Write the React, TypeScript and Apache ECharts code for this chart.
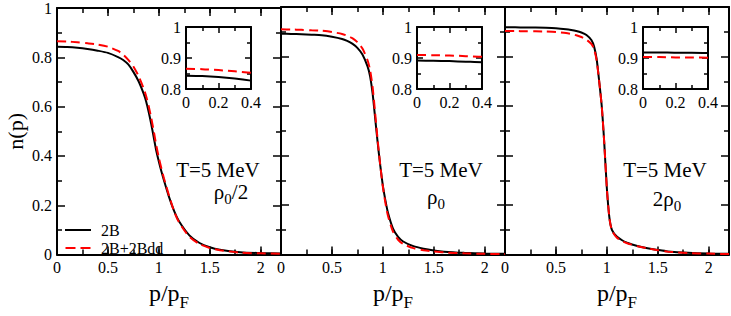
import React, { useEffect, useRef } from 'react';
import * as echarts from 'echarts';

// momentum grid p/pF (shared by all curves)
const P = [0, 0.1, 0.2, 0.3, 0.4, 0.5, 0.6, 0.65, 0.7, 0.75, 0.8, 0.85, 0.875, 0.9, 0.925, 0.95, 0.975, 1.0, 1.025, 1.05, 1.1, 1.15, 1.2, 1.3, 1.4, 1.5, 1.6, 1.8, 2.0, 2.2];

// rho0/2
const HALF_2B = [0.843, 0.842, 0.839, 0.834, 0.827, 0.818, 0.801, 0.789, 0.771, 0.741, 0.704, 0.654, 0.622, 0.579, 0.53, 0.476, 0.421, 0.378, 0.338, 0.302, 0.234, 0.177, 0.134, 0.078, 0.047, 0.03, 0.02, 0.01, 0.006, 0.004];
const HALF_2BDD = [0.865, 0.864, 0.861, 0.857, 0.852, 0.843, 0.826, 0.811, 0.79, 0.763, 0.725, 0.675, 0.643, 0.603, 0.555, 0.501, 0.443, 0.393, 0.35, 0.31, 0.24, 0.176, 0.13, 0.073, 0.043, 0.027, 0.018, 0.008, 0.005, 0.003];
// rho0
const ONE_2B = [0.892, 0.891, 0.89, 0.888, 0.886, 0.88, 0.871, 0.863, 0.852, 0.835, 0.808, 0.76, 0.72, 0.65, 0.55, 0.45, 0.36, 0.28, 0.22, 0.17, 0.105, 0.072, 0.053, 0.034, 0.024, 0.017, 0.012, 0.007, 0.004, 0.003];
const ONE_2BDD = [0.91, 0.909, 0.908, 0.906, 0.904, 0.899, 0.891, 0.884, 0.874, 0.858, 0.832, 0.785, 0.745, 0.675, 0.57, 0.46, 0.36, 0.275, 0.21, 0.158, 0.093, 0.06, 0.043, 0.026, 0.018, 0.013, 0.009, 0.005, 0.003, 0.002];
// 2 rho0
const TWO_2B = [0.918, 0.918, 0.917, 0.917, 0.916, 0.914, 0.91, 0.907, 0.903, 0.897, 0.887, 0.866, 0.84, 0.79, 0.7, 0.6, 0.45, 0.27, 0.15, 0.1, 0.072, 0.058, 0.048, 0.035, 0.026, 0.019, 0.013, 0.007, 0.004, 0.003];
const TWO_2BDD = [0.903, 0.903, 0.902, 0.902, 0.901, 0.899, 0.895, 0.891, 0.886, 0.879, 0.868, 0.85, 0.83, 0.785, 0.7, 0.6, 0.45, 0.27, 0.15, 0.098, 0.068, 0.055, 0.046, 0.034, 0.025, 0.018, 0.012, 0.006, 0.004, 0.002];

const SERIES_NAMES = ['2B', '2B+2Bdd'];
const TEMPERATURE_LABEL = 'T=5 MeV';
const DENSITY_LABELS = ['{a|ρ}{b|0}{a|/2}', '{a|ρ}{b|0}', '{a|2ρ}{b|0}'];

const PANELS = [
  { b: HALF_2B, dd: HALF_2BDD },
  { b: ONE_2B, dd: ONE_2BDD },
  { b: TWO_2B, dd: TWO_2BDD },
];

const FONT = 'Liberation Serif';
const MAIN_LEFT = [57, 281, 505];
const MAIN_W = 224;
const INSET_LEFT = [186, 417, 643];
const T_X = [218, 441, 665];
const D_X = [231, 436, 667];
const D_Y = [192, 197, 199];

const rich = {
  a: { fontSize: 21, fontFamily: FONT, color: '#000' },
  b: { fontSize: 15, fontFamily: FONT, color: '#000', padding: [14, 0, 0, 0] },
};
const nameRich = {
  a: { fontSize: 24, fontFamily: FONT, color: '#000' },
  b: { fontSize: 17, fontFamily: FONT, color: '#000', padding: [20, 0, 0, 0] },
};

function buildOption() {
  const grid: any[] = [];
  const xAxis: any[] = [];
  const yAxis: any[] = [];
  const series: any[] = [];
  const tick = (len: number) => ({ show: true, inside: true, length: len, lineStyle: { color: '#000', width: 1.5 } });
  const aline = (show: boolean) => ({ show, onZero: false, lineStyle: { color: '#000', width: 2 } });
  const lbl = (show: boolean, extra: any = {}) => ({ show, color: '#000', fontSize: 16, fontFamily: FONT, margin: 5, ...extra });
  const minor = (len: number) => ({ show: true, splitNumber: 2, length: len, lineStyle: { color: '#000', width: 1.5 } });

  const addSeries = (xi: number, yi: number, p: any, z: number) => {
    series.push({
      type: 'line', name: SERIES_NAMES[0], xAxisIndex: xi, yAxisIndex: yi,
      data: P.map((x, i) => [x, p.b[i]]), showSymbol: false, symbol: 'none', smooth: 0.25, z,
      itemStyle: { color: '#000' }, lineStyle: { color: '#000', width: 2 },
    });
    series.push({
      type: 'line', name: SERIES_NAMES[1], xAxisIndex: xi, yAxisIndex: yi,
      data: P.map((x, i) => [x, p.dd[i]]), showSymbol: false, symbol: 'none', smooth: 0.25, z: z + 1,
      itemStyle: { color: '#ff0000' }, lineStyle: { color: '#ff0000', width: 2, type: [9, 5] },
    });
  };

  PANELS.forEach((p, g) => {
    const gi = grid.length;
    grid.push({ left: MAIN_LEFT[g], top: 7, width: MAIN_W, height: 256, containLabel: false });
    const xi = xAxis.length;
    const base = { type: 'value', gridIndex: gi, min: 0, max: 2.2, splitLine: { show: false } };
    xAxis.push({
      ...base, position: 'bottom', interval: 0.5, axisLine: aline(true), axisTick: tick(8),
      axisLabel: lbl(true, { showMaxLabel: false, margin: 5 }),
      name: '{a|p/p}{b|F}', nameLocation: 'middle', nameGap: 14, nameTextStyle: { rich: nameRich },
    });
    xAxis.push({ ...base, position: 'bottom', interval: 0.25, axisLine: aline(false), axisTick: tick(5), axisLabel: lbl(false) });
    xAxis.push({ ...base, position: 'top', interval: 0.5, axisLine: aline(true), axisTick: tick(8), axisLabel: lbl(false) });
    xAxis.push({ ...base, position: 'top', interval: 0.25, axisLine: aline(false), axisTick: tick(5), axisLabel: lbl(false) });
    const yi = yAxis.length;
    const ybase = { type: 'value', gridIndex: gi, min: 0, max: 1, interval: 0.2, splitLine: { show: false }, minorTick: minor(5), axisTick: tick(8), axisLine: aline(true) };
    yAxis.push({
      ...ybase, position: 'left', axisLabel: lbl(g === 0, { margin: 5 }),
      ...(g === 0 ? { name: 'n(p)', nameLocation: 'middle', nameGap: 31, nameTextStyle: { fontSize: 22, fontFamily: FONT, color: '#000' } } : {}),
    });
    yAxis.push({ ...ybase, position: 'right', axisLabel: lbl(false) });
    addSeries(xi, yi, p, 2);
  });

  PANELS.forEach((p, g) => {
    const gi = grid.length;
    grid.push({ left: INSET_LEFT[g], top: 27, width: 65, height: 62, containLabel: false });
    const xi = xAxis.length;
    const base = { type: 'value', gridIndex: gi, min: 0, max: 0.4, interval: 0.2, splitLine: { show: false }, minorTick: minor(4), axisTick: tick(6), axisLine: aline(true) };
    xAxis.push({ ...base, position: 'bottom', axisLabel: lbl(true, { margin: 5 }) });
    xAxis.push({ ...base, position: 'top', axisLabel: lbl(false) });
    const yi = yAxis.length;
    const ybase = { type: 'value', gridIndex: gi, min: 0.8, max: 1, interval: 0.1, splitLine: { show: false }, minorTick: minor(4), axisTick: tick(6), axisLine: aline(true) };
    yAxis.push({ ...ybase, position: 'left', axisLabel: lbl(true, { margin: 5 }) });
    yAxis.push({ ...ybase, position: 'right', axisLabel: lbl(false) });
    addSeries(xi, yi, p, 5);
  });

  const graphic: any[] = [];
  PANELS.forEach((_, g) => {
    graphic.push({
      type: 'text', x: T_X[g], y: 170, z: 10,
      style: { text: TEMPERATURE_LABEL, fontSize: 21, fontFamily: FONT, fill: '#000', textAlign: 'center', textVerticalAlign: 'middle', align: 'center', verticalAlign: 'middle' },
    });
    graphic.push({
      type: 'text', x: D_X[g], y: D_Y[g], z: 10,
      style: { text: DENSITY_LABELS[g], rich, fill: '#000', textAlign: 'center', textVerticalAlign: 'middle', align: 'center', verticalAlign: 'middle' },
    });
  });

  return {
    animation: false,
    backgroundColor: '#fff',
    textStyle: { fontFamily: FONT },
    grid, xAxis, yAxis, series, graphic,
    legend: {
      left: 60, top: 217, orient: 'vertical', itemWidth: 26, itemHeight: 2, itemGap: 2, padding: 5,
      selectedMode: false,
      textStyle: { fontSize: 16, fontFamily: FONT, color: '#000', lineHeight: 16, padding: [0, 0, 0, 5] },
      data: [
        { name: SERIES_NAMES[0], icon: 'path://M0,0h26v2h-26z' },
        { name: SERIES_NAMES[1], icon: 'path://M0,0h10v2h-10zM15,0h10v2h-10z' },
      ],
    },
  };
}

export default function App() {
  const ref = useRef<HTMLDivElement>(null);
  useEffect(() => {
    if (!ref.current) return;
    const chart = echarts.init(ref.current, undefined, { renderer: 'svg' });
    chart.setOption(buildOption() as any);
    return () => chart.dispose();
  }, []);
  return <div ref={ref} style={{ position: 'fixed', left: 0, top: 0, width: 731, height: 316 }} />;
}
